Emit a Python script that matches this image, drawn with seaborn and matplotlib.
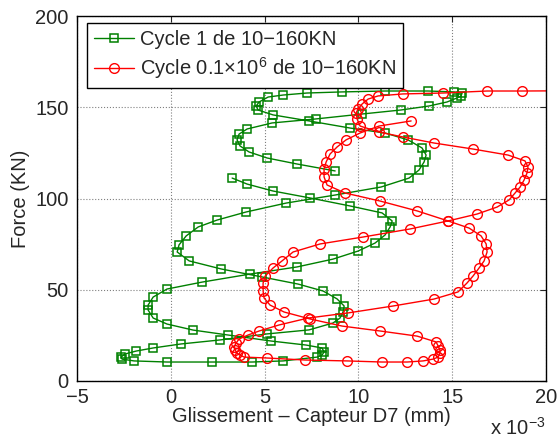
import matplotlib
matplotlib.use("Agg")
import matplotlib.pyplot as plt
from matplotlib.lines import Line2D
import seaborn as sns
import pandas as pd

# ---- data (x in units of 1e-3 mm, force in kN) ----
green_x = [3.27, 4.07, 5.45, 7.42, 9.56, 11.26, 11.80, 11.69, 11.42, 10.89, 9.98, 8.65, 6.73, 4.23, 1.67,
           -0.20, -0.94, -1.21, -1.21, -0.94, -0.20, 1.19, 3.05, 5.35, 7.21, 8.06, 8.17, 8.06, 7.80,
           5.99, 4.33, 2.20, -0.20, -1.96, -2.60, -2.65, -2.44, -1.85, -0.94, 0.55, 2.63, 5.13, 7.37,
           8.65, 9.02, 9.18, 9.24, 8.86, 8.12, 6.79, 4.87, 2.68, 0.98, 0.34, 0.44, 0.82, 1.46, 2.47,
           4.01, 6.15, 8.76, 11.21, 12.70, 13.23, 13.50, 13.61, 13.39, 12.65, 11.42, 9.56, 7.37, 5.45,
           4.65, 4.55, 4.71, 5.19, 5.99, 7.26, 9.13, 11.42, 13.71, 15.10, 15.53, 15.47, 15.26, 14.73,
           13.77, 12.27, 10.20, 7.74, 5.40, 4.07, 3.64, 3.53, 3.69, 4.17, 5.13, 6.73, 8.76]
green_f = [111.2, 107.9, 104.1, 100.3, 95.9, 92.1, 87.7, 84.4, 80.0, 75.6, 71.2, 66.8, 62.5, 58.6, 54.2,
           50.4, 46.0, 41.6, 38.9, 34.5, 31.2, 27.9, 25.2, 21.9, 19.7, 18.1, 15.9, 14.2, 13.1,
           11.0, 10.4, 10.4, 10.4, 11.0, 12.0, 13.1, 14.8, 16.4, 18.1, 20.3, 22.5, 25.8, 28.0,
           31.8, 34.5, 37.8, 41.1, 45.0, 49.3, 53.1, 57.0, 61.4, 65.8, 70.7, 74.6, 79.5, 84.4, 88.2,
           92.6, 97.5, 101.9, 106.3, 111.2, 115.6, 120.0, 123.8, 127.7, 132.1, 135.9, 138.6, 142.5, 145.8,
           148.5, 150.7, 152.9, 155.6, 156.7, 157.8, 158.4, 158.9, 158.9, 158.4, 157.8, 156.2, 155.1, 152.9,
           150.7, 148.5, 146.3, 143.6, 141.4, 138.1, 135.3, 132.1, 128.8, 125.5, 122.2, 118.9, 115.1]

red_x = [12.81, 11.10, 10.09, 9.34, 8.86, 8.49, 8.28, 8.17, 8.17, 8.33, 9.29, 11.16, 13.13, 14.78, 15.90,
         16.54, 16.81, 16.86, 16.70, 16.43, 16.11, 15.79, 15.31, 14.03, 11.85, 9.45, 7.32, 5.77, 4.71,
         4.12, 3.64, 3.48, 3.37, 3.43, 3.53, 3.69, 3.91, 5.13, 7.16, 9.40, 11.26, 12.60, 13.45, 13.98,
         14.25, 14.35, 14.35, 14.25, 14.14, 13.13, 11.16, 9.13, 7.42, 6.04, 5.29, 4.97, 4.92, 4.92,
         5.03, 5.45, 5.93, 6.52, 7.96, 10.25, 12.75, 14.78, 16.33, 17.39, 18.03, 18.35, 18.62, 18.83,
         18.99, 19.04, 18.88, 17.98, 16.11, 14.03, 12.38, 11.10, 10.09, 9.93, 9.88, 9.98, 10.20, 10.52,
         11.05, 12.38, 14.51, 16.86, 18.72, 20.80, 22.50]
red_f = [142.5, 139.7, 135.9, 132.1, 128.2, 124.4, 120.0, 116.2, 111.8, 107.4, 103.0, 98.6, 93.2, 87.7, 83.8,
         79.5, 75.1, 70.7, 65.8, 61.9, 57.5, 53.7, 48.8, 44.9, 41.1, 37.3, 34.5, 30.7, 27.4,
         25.2, 23.0, 20.8, 18.6, 17.0, 15.3, 14.2, 13.1, 12.6, 11.5, 11.0, 10.4, 10.4, 11.0, 12.0,
         13.1, 15.3, 17.0, 19.2, 21.4, 24.6, 27.4, 30.1, 34.0, 37.8, 41.6, 45.5, 49.3, 53.7,
         57.5, 61.9, 65.8, 70.7, 75.1, 78.9, 83.3, 87.7, 91.5, 95.3, 99.2, 103.0, 106.3, 110.1,
         114.0, 117.3, 120.6, 123.8, 127.1, 130.4, 133.7, 136.4, 139.7, 143.6, 146.9, 149.0, 151.8, 154.5,
         156.2, 157.3, 157.8, 158.9, 158.9, 159.0, 159.1]

series_labels = ["Cycle 1 de 10\u2212160KN", "Cycle 0.1\u00d710$^{6}$ de 10\u2212160KN"]
x_ticks = [-5, 0, 5, 10, 15, 20]
y_ticks = [0, 50, 100, 150, 200]
x_label = "Glissement \u2013 Capteur D7 (mm)"
y_label = "Force (KN)"
x_multiplier = "x 10$^{-3}$"

GREEN = "#008000"
RED = "#ff0000"
FS = 14.5

sns.set_style("white")
plt.rcParams['font.family'] = ['Liberation Sans', 'DejaVu Sans']
plt.rcParams['mathtext.fontset'] = 'custom'
plt.rcParams['mathtext.rm'] = 'Liberation Sans'
plt.rcParams['mathtext.it'] = 'Liberation Sans:italic'

fig = plt.figure(figsize=(5.59, 4.41), dpi=100)
ax = fig.add_axes([77 / 559, 60 / 441, 469 / 559, 365 / 441])

sns.lineplot(x=green_x, y=green_f, sort=False, estimator=None, ax=ax, color=GREEN,
             linewidth=1.0, marker='s', markersize=5.5, markerfacecolor='none',
             markeredgecolor=GREEN, markeredgewidth=1.1)
sns.lineplot(x=red_x, y=red_f, sort=False, estimator=None, ax=ax, color=RED,
             linewidth=1.0, marker='o', markersize=7, markerfacecolor='none',
             markeredgecolor=RED, markeredgewidth=1.0)

ax.set_xlim(-5, 20)
ax.set_ylim(0, 200)
ax.set_xticks(x_ticks)
ax.set_yticks(y_ticks)
ax.set_xticklabels([str(t) if t >= 0 else "\u2212" + str(-t) for t in x_ticks], fontsize=FS)
ax.set_yticklabels([str(t) for t in y_ticks], fontsize=FS)
ax.tick_params(axis='x', direction='in', top=True, length=4, width=0.8, pad=5)
ax.tick_params(axis='y', direction='in', right=True, length=4, width=0.8, pad=6)
ax.grid(True, linestyle=':', color='k', linewidth=0.8, alpha=0.5)
for s in ax.spines.values():
    s.set_color('k')
    s.set_linewidth(1.0)

ax.set_xlabel(x_label, fontsize=FS, labelpad=0)
ax.set_ylabel(y_label, fontsize=FS, labelpad=4)
ax.text(1.0, -0.128, x_multiplier, transform=ax.transAxes, ha='right', va='center', fontsize=FS)

handles = [
    Line2D([], [], color=GREEN, lw=1.0, marker='s', markersize=5.5, markerfacecolor='none',
           markeredgecolor=GREEN, markeredgewidth=1.1),
    Line2D([], [], color=RED, lw=1.0, marker='o', markersize=7, markerfacecolor='none',
           markeredgecolor=RED),
]
leg = ax.legend(handles, series_labels, loc='upper left', bbox_to_anchor=(0.021, 0.981),
                borderaxespad=0, frameon=True, fancybox=False, edgecolor='k', framealpha=1,
                fontsize=FS, handlelength=2.0, handletextpad=0.3, labelspacing=0.3,
                borderpad=0.35)
leg.get_frame().set_linewidth(1.0)

fig.savefig("out.png", dpi=100)
